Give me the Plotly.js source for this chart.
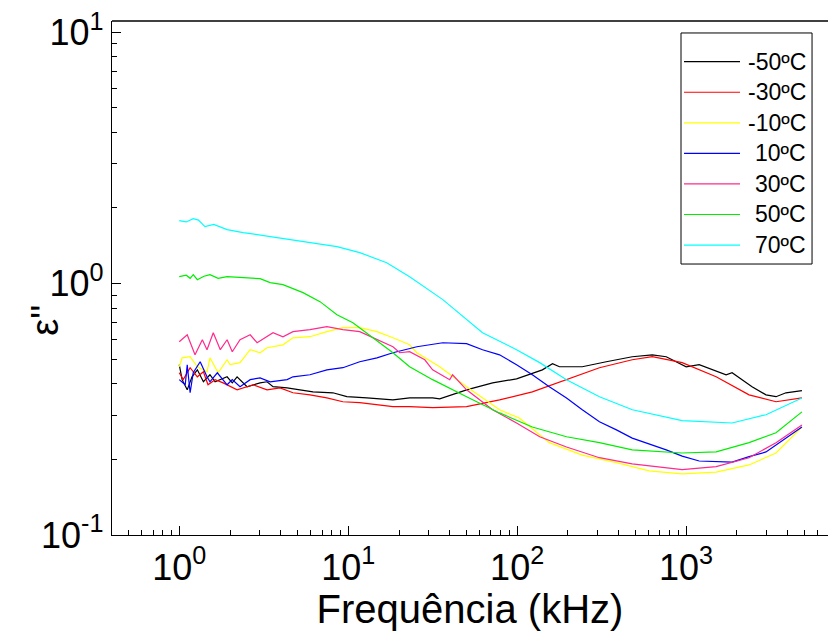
<!DOCTYPE html>
<html>
<head>
<meta charset="utf-8">
<script src="https://cdn.plot.ly/plotly-3.0.1.min.js"></script>
<style>html,body{margin:0;padding:0;background:#fff;}#chart{width:828px;height:631px;}</style>
</head>
<body>
<div id="chart"></div>
<script>
// Series names and colours
const seriesNames = ['-50ºC', '-30ºC', '-10ºC', '10ºC', '30ºC', '50ºC', '70ºC'];
const seriesColors = ['#000000', '#ff0000', '#ffff00', '#0000ff', '#ff2a8c', '#00ee00', '#00ffff'];

// Frequency (kHz) and epsilon'' values
const freqM50 = [1.00, 1.04, 1.115, 1.19, 1.28, 1.39, 1.52, 1.63, 1.92, 2.06, 2.20, 2.52, 3.01, 3.31, 3.59, 4.35, 5.18, 6.19, 8.12, 9.82, 12.9, 18.4, 23.1, 31.6, 34.8, 50.2, 71.6, 99.2, 141, 162, 178, 243, 337, 480, 631, 763, 1001, 1195, 1726, 1872, 2457, 2972, 3406, 3902, 4850];
const epsM50  = [0.476, 0.415, 0.378, 0.426, 0.454, 0.407, 0.434, 0.407, 0.426, 0.403, 0.426, 0.389, 0.403, 0.407, 0.389, 0.385, 0.378, 0.371, 0.368, 0.355, 0.351, 0.345, 0.351, 0.351, 0.348, 0.378, 0.403, 0.418, 0.454, 0.480, 0.467, 0.467, 0.489, 0.512, 0.521, 0.512, 0.467, 0.476, 0.434, 0.442, 0.389, 0.361, 0.355, 0.368, 0.375];

const freqM30 = [1.00, 1.056, 1.16, 1.28, 1.39, 1.48, 1.63, 1.82, 2.20, 2.74, 3.31, 3.95, 4.71, 5.94, 7.48, 9.30, 11.7, 18.4, 23.1, 31.6, 50.2, 78.7, 123, 196, 307, 480, 631, 948, 1506, 2359, 3406, 4850];
const epsM30  = [0.442, 0.415, 0.463, 0.426, 0.446, 0.396, 0.415, 0.403, 0.378, 0.396, 0.378, 0.385, 0.368, 0.361, 0.351, 0.339, 0.336, 0.324, 0.324, 0.321, 0.324, 0.345, 0.371, 0.415, 0.463, 0.498, 0.512, 0.485, 0.426, 0.361, 0.339, 0.351];

const freqM10 = [1.00, 1.04, 1.16, 1.28, 1.46, 1.52, 1.70, 1.92, 2.00, 2.29, 2.63, 3.01, 3.31, 4.11, 4.71, 5.94, 7.48, 9.30, 11.7, 14.8, 18.4, 23.1, 25.5, 34.8, 50.2, 78.7, 103, 155, 243, 387, 605, 948, 1506, 2359, 3406, 4850];
const epsM10  = [0.467, 0.507, 0.512, 0.467, 0.446, 0.507, 0.442, 0.498, 0.476, 0.485, 0.546, 0.531, 0.556, 0.571, 0.609, 0.615, 0.644, 0.668, 0.668, 0.644, 0.609, 0.571, 0.531, 0.467, 0.389, 0.315, 0.292, 0.233, 0.208, 0.194, 0.180, 0.175, 0.178, 0.190, 0.212, 0.269];

const freqP10 = [1.00, 1.085, 1.115, 1.16, 1.21, 1.33, 1.46, 1.52, 1.68, 1.92, 2.06, 2.29, 2.63, 3.01, 3.45, 4.35, 4.71, 5.94, 7.48, 9.30, 11.7, 14.8, 18.4, 25.5, 36.3, 50.2, 62.4, 78.7, 99.2, 123, 155, 196, 243, 307, 387, 480, 763, 948, 1195, 1872, 2359, 2972, 4850];
const epsP10  = [0.415, 0.396, 0.476, 0.368, 0.442, 0.489, 0.426, 0.407, 0.442, 0.396, 0.415, 0.389, 0.415, 0.422, 0.407, 0.415, 0.426, 0.434, 0.454, 0.463, 0.489, 0.507, 0.531, 0.561, 0.582, 0.577, 0.546, 0.521, 0.476, 0.434, 0.389, 0.351, 0.315, 0.282, 0.262, 0.243, 0.218, 0.206, 0.197, 0.195, 0.205, 0.214, 0.269];

const freqP30 = [1.00, 1.115, 1.24, 1.37, 1.46, 1.59, 1.75, 1.92, 2.06, 2.29, 2.63, 2.89, 3.59, 4.11, 4.71, 5.94, 7.48, 9.30, 11.7, 14.0, 18.4, 20.2, 23.1, 28.4, 31.6, 39.9, 41.5, 50.2, 71.6, 99.2, 136, 196, 307, 480, 948, 1506, 2359, 3406, 4850];
const epsP30  = [0.587, 0.626, 0.521, 0.598, 0.546, 0.638, 0.546, 0.598, 0.536, 0.598, 0.626, 0.582, 0.638, 0.615, 0.644, 0.656, 0.674, 0.656, 0.644, 0.609, 0.561, 0.531, 0.536, 0.498, 0.454, 0.415, 0.434, 0.378, 0.315, 0.279, 0.246, 0.224, 0.203, 0.192, 0.182, 0.187, 0.203, 0.233, 0.274];

const freqP50 = [1.00, 1.10, 1.16, 1.21, 1.28, 1.40, 1.52, 1.70, 1.92, 2.39, 3.01, 3.45, 4.11, 5.40, 6.81, 8.58, 10.66, 14.0, 18.4, 23.1, 31.6, 50.2, 78.7, 123, 196, 307, 480, 948, 1506, 2359, 3406, 4850];
const epsP50  = [1.066, 1.080, 1.050, 1.086, 1.037, 1.070, 1.086, 1.050, 1.066, 1.056, 1.047, 1.009, 0.991, 0.921, 0.848, 0.752, 0.699, 0.609, 0.531, 0.467, 0.415, 0.355, 0.306, 0.269, 0.246, 0.233, 0.218, 0.212, 0.214, 0.233, 0.255, 0.309];

const freqP70 = [1.00, 1.10, 1.21, 1.30, 1.42, 1.60, 1.92, 2.39, 3.79, 5.94, 8.58, 11.7, 16.9, 23.1, 36.3, 62.4, 99.2, 136, 196, 307, 481, 948, 1872, 2972, 4850];
const epsP70  = [1.782, 1.760, 1.815, 1.790, 1.687, 1.720, 1.641, 1.597, 1.525, 1.457, 1.404, 1.329, 1.212, 1.066, 0.864, 0.638, 0.546, 0.485, 0.415, 0.355, 0.315, 0.285, 0.279, 0.301, 0.351];

// Axis ticks and titles
const xTickVals = [1, 10, 100, 1000];
const xTickText = ['10<sup>0</sup>', '10<sup>1</sup>', '10<sup>2</sup>', '10<sup>3</sup>'];
const yTickVals = [0.1, 1, 10];
const yTickText = ['10<sup>-1</sup>', '10<sup>0</sup>', '10<sup>1</sup>'];
const xTitle = 'Frequência (kHz)';
const yTitle = "ε''";

const xs = [freqM50, freqM30, freqM10, freqP10, freqP30, freqP50, freqP70];
const ys = [epsM50, epsM30, epsM10, epsP10, epsP30, epsP50, epsP70];

const traces = seriesNames.map((name, i) => ({
  x: xs[i], y: ys[i], name: name, type: 'scatter', mode: 'lines',
  line: {color: seriesColors[i], width: 1.2}, showlegend: false
}));

function minorTicks(lo, hi) {
  const out = [];
  for (let e = lo; e <= hi; e++) {
    for (let m = 2; m <= 9; m++) out.push(m * Math.pow(10, e));
  }
  return out;
}

const FONT = 'Liberation Sans, Arial, sans-serif';

// Boxed legend (drawn in paper coordinates)
const legBox = {x0: 0.7947, x1: 0.9777, y0: 0.5272, y1: 0.9767};
const legLineX = [0.7989, 0.8771];
const legTextX = 0.972;
const legRowTop = 0.9208, legRowStep = 0.05945;

const shapes = [
  {type: 'line', xref: 'paper', yref: 'paper', x0: 0, x1: 1, y0: 1, y1: 1, line: {color: '#000000', width: 1.3}},
  {type: 'rect', xref: 'paper', yref: 'paper', x0: legBox.x0, x1: legBox.x1, y0: legBox.y0, y1: legBox.y1,
   line: {color: '#000000', width: 1}, fillcolor: '#ffffff', layer: 'above'}
];
const annotations = [
  {xref: 'paper', yref: 'paper', x: -0.094, y: 0.418, text: yTitle, textangle: -90, showarrow: false,
   xanchor: 'center', yanchor: 'middle', font: {family: FONT, size: 38, color: '#000000'}}
];
seriesNames.forEach((name, i) => {
  const yy = legRowTop - i * legRowStep;
  shapes.push({type: 'line', xref: 'paper', yref: 'paper', x0: legLineX[0], x1: legLineX[1], y0: yy, y1: yy,
    line: {color: seriesColors[i], width: 1.2}, layer: 'above'});
  annotations.push({xref: 'paper', yref: 'paper', x: legTextX, y: yy, text: name, showarrow: false,
    xanchor: 'right', yanchor: 'middle', font: {family: FONT, size: 23, color: '#000000'}});
});

const layout = {
  width: 828, height: 631,
  margin: {l: 112, r: 0, t: 21, b: 96, pad: 0},
  paper_bgcolor: '#ffffff', plot_bgcolor: '#ffffff',
  font: {family: FONT, color: '#000000'},
  showlegend: false,
  xaxis: {
    type: 'log', range: [-0.398, 3.84], autorange: false,
    showline: true, linecolor: '#000000', linewidth: 1.3,
    showgrid: false, zeroline: false,
    tickmode: 'array', tickvals: xTickVals, ticktext: xTickText,
    ticks: 'inside', ticklen: 9, tickwidth: 1, tickcolor: '#000000',
    tickfont: {family: FONT, size: 36, color: '#000000'},
    minor: {tickmode: 'array', tickvals: minorTicks(-1, 3), ticks: 'inside', ticklen: 5, tickwidth: 1, tickcolor: '#000000', showgrid: false},
    title: {text: xTitle, font: {family: FONT, size: 40, color: '#000000'}, standoff: 2},
    automargin: false
  },
  yaxis: {
    type: 'log', range: [-1, 1.045], autorange: false,
    showline: true, linecolor: '#000000', linewidth: 1.3,
    showgrid: false, zeroline: false,
    tickmode: 'array', tickvals: yTickVals, ticktext: yTickText,
    ticks: 'inside', ticklen: 9, tickwidth: 1, tickcolor: '#000000',
    tickfont: {family: FONT, size: 36, color: '#000000'},
    minor: {tickmode: 'array', tickvals: minorTicks(-1, 0), ticks: 'inside', ticklen: 5, tickwidth: 1, tickcolor: '#000000', showgrid: false},
    automargin: false
  },
  shapes: shapes,
  annotations: annotations
};

Plotly.newPlot('chart', traces, layout, {displayModeBar: false, staticPlot: true});
</script>
</body>
</html>
